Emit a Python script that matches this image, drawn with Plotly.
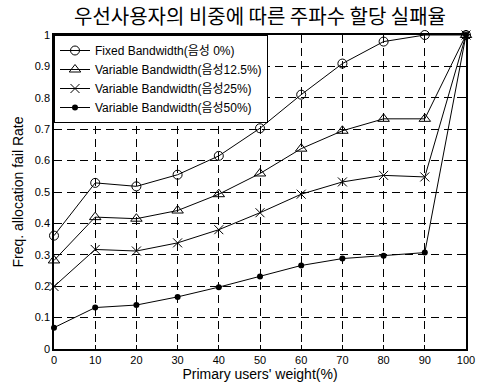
import plotly.graph_objects as go

# Primary users' weight (%)
weights = [0, 10, 20, 30, 40, 50, 60, 70, 80, 90, 100]

# Frequency allocation fail rate for each bandwidth scheme
fixed_0 = [0.361, 0.529, 0.518, 0.555, 0.615, 0.703, 0.810, 0.909, 0.979, 1.0, 1.0]
variable_12_5 = [0.282, 0.420, 0.415, 0.441, 0.493, 0.559, 0.638, 0.695, 0.733, 0.733, 1.0]
variable_25 = [0.199, 0.317, 0.312, 0.338, 0.380, 0.434, 0.493, 0.532, 0.553, 0.548, 1.0]
variable_50 = [0.068, 0.132, 0.140, 0.166, 0.197, 0.231, 0.266, 0.288, 0.297, 0.307, 1.0]

series_names = [
    "Fixed Bandwidth(음성 0%)",
    "Variable Bandwidth(음성12.5%)",
    "Variable Bandwidth(음성25%)",
    "Variable Bandwidth(음성50%)",
]

x_ticks = [0, 10, 20, 30, 40, 50, 60, 70, 80, 90, 100]
y_ticks = [0, 0.1, 0.2, 0.3, 0.4, 0.5, 0.6, 0.7, 0.8, 0.9, 1]
y_tick_text = ["0", "0.1", "0.2", "0.3", "0.4", "0.5", "0.6", "0.7", "0.8", "0.9", "1"]

FONT = "Arial, Liberation Sans, Noto Sans CJK KR, sans-serif"

markers = [
    dict(symbol="circle-open", size=9, color="black", line=dict(width=1, color="black")),
    dict(symbol="triangle-up-open", size=10, color="black", line=dict(width=1, color="black")),
    dict(symbol="x-thin-open", size=9, color="black", line=dict(width=1, color="black")),
    dict(symbol="circle", size=6, color="black", line=dict(width=0)),
]

fig = go.Figure()
for name, ys, mk in zip(series_names, [fixed_0, variable_12_5, variable_25, variable_50], markers):
    fig.add_trace(go.Scatter(
        x=weights, y=ys, name=name, mode="lines+markers",
        line=dict(color="black", width=1),
        marker=mk,
        cliponaxis=False,
    ))

axis_common = dict(
    showline=True, linecolor="black", linewidth=1.5, mirror="ticks",
    ticks="inside", ticklen=4, tickcolor="black",
    showgrid=True, gridcolor="black", gridwidth=1, griddash="8px,5px",
    zeroline=False, ticklabeloverflow="allow",
    tickfont=dict(family=FONT, size=11, color="black"),
)

fig.update_layout(
    width=482, height=387,
    margin=dict(l=54, r=7, t=35, b=38),
    paper_bgcolor="white", plot_bgcolor="white",
    title=dict(
        text="우선사용자의 비중에 따른 주파수 할당 실패율",
        xref="paper", x=0.5, xanchor="center", y=0.955, yanchor="middle",
        font=dict(family="Noto Sans CJK KR, sans-serif", size=20, color="black"),
    ),
    xaxis=dict(
        range=[0, 100], tickvals=x_ticks,
        title=dict(text="Primary users' weight(%)", standoff=4,
                   font=dict(family=FONT, size=14, color="black")),
        **axis_common,
    ),
    yaxis=dict(
        range=[0, 1], tickvals=y_ticks, ticktext=y_tick_text,
        title=dict(text="Freq. allocation fail Rate", standoff=8,
                   font=dict(family=FONT, size=14, color="black")),
        **axis_common,
    ),
    legend=dict(
        x=0, y=1, xanchor="left", yanchor="top",
        bgcolor="white", bordercolor="black", borderwidth=1,
        font=dict(family=FONT, size=12, color="black"),
        tracegroupgap=0, itemwidth=30,
    ),
    showlegend=True,
)

fig.write_html("out.html")
